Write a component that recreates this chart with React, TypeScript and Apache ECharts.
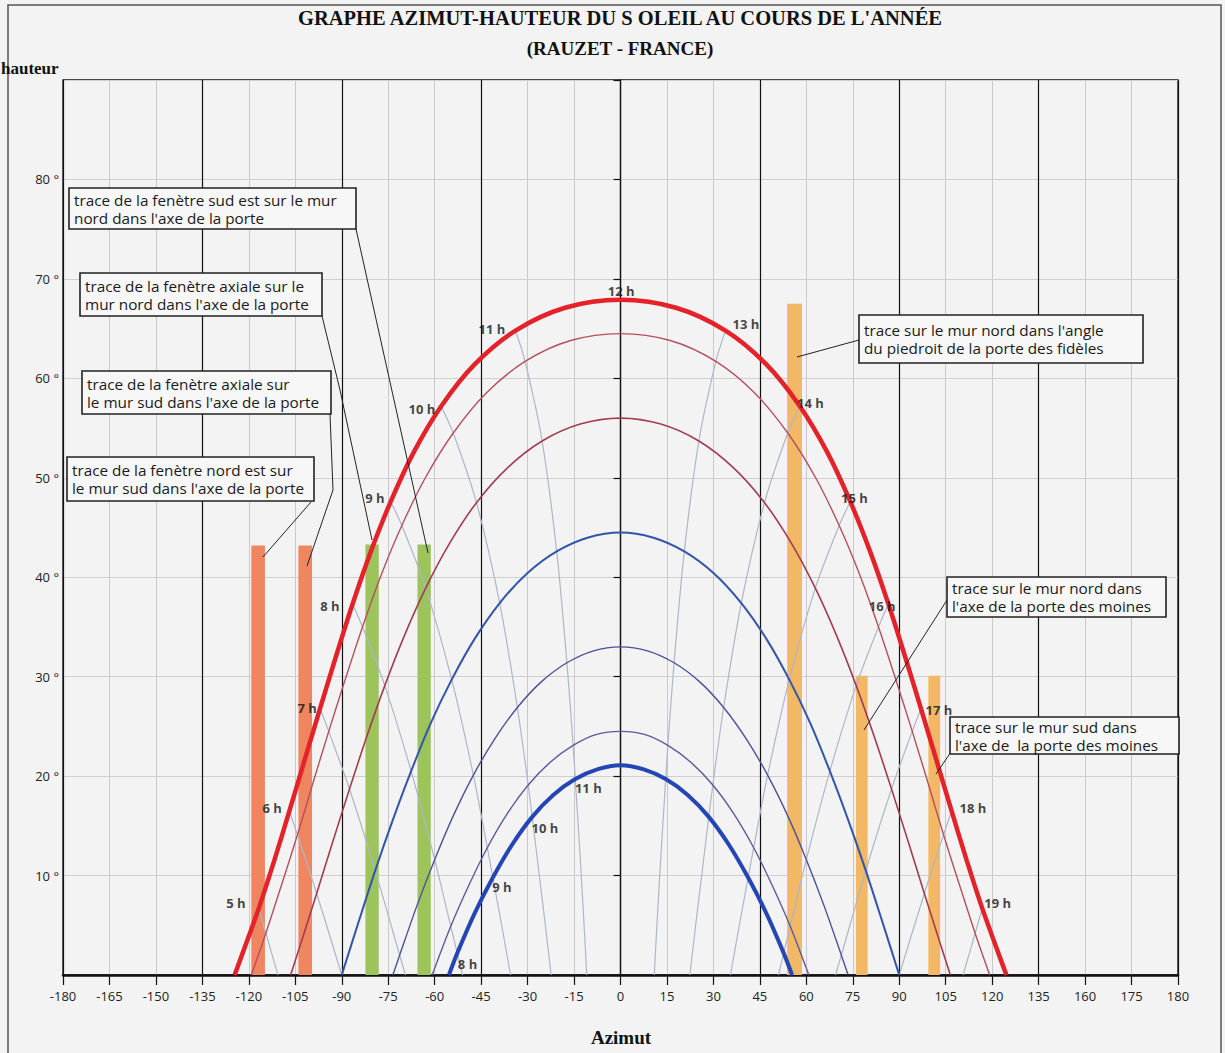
import React, { useEffect, useRef } from "react";
import * as echarts from "echarts";

// ---------- tick labels ----------
const xTickLabels = ["-180", "-165", "-150", "-135", "-120", "-105", "-90", "-75", "-60", "-45", "-30", "-15", "0", "15", "30", "45", "60", "75", "90", "105", "120", "135", "160", "175", "180"];
const yTickLabels = ["", "10 °", "20 °", "30 °", "40 °", "50 °", "60 °", "70 °", "80 °", ""];

// ---------- sun paths [azimut, hauteur] ----------
const pathJune = [[-124.6, 0], [-122.0, 2.2], [-116.8, 6.7], [-111.8, 11.5], [-106.9, 16.5], [-102.0, 21.6], [-97.0, 26.8], [-91.9, 32.0], [-86.5, 37.3], [-80.7, 42.5], [-74.2, 47.6], [-66.7, 52.6], [-57.9, 57.2], [-47.1, 61.4], [-33.9, 64.8], [-17.9, 67.1], [0, 67.9], [17.9, 67.1], [33.9, 64.8], [47.1, 61.4], [57.9, 57.2], [66.7, 52.6], [74.2, 47.6], [80.7, 42.5], [86.5, 37.3], [91.9, 32.0], [97.0, 26.8], [102.0, 21.6], [106.9, 16.5], [111.8, 11.5], [116.8, 6.7], [122.0, 2.2], [124.6, 0]];
const pathMayJul = [[-119.2, 0], [-114.5, 4.2], [-109.4, 9.1], [-104.3, 14.1], [-99.3, 19.3], [-94.2, 24.5], [-88.9, 29.7], [-83.3, 35.0], [-77.3, 40.2], [-70.6, 45.2], [-63.0, 50.0], [-54.0, 54.5], [-43.4, 58.5], [-30.8, 61.7], [-16.1, 63.8], [0, 64.5], [16.1, 63.8], [30.8, 61.7], [43.4, 58.5], [54.0, 54.5], [63.0, 50.0], [70.6, 45.2], [77.3, 40.2], [83.3, 35.0], [88.9, 29.7], [94.2, 24.5], [99.3, 19.3], [104.3, 14.1], [109.4, 9.1], [114.5, 4.2], [119.2, 0]];
const pathAprAug = [[-106.5, 0], [-103.4, 3.0], [-98.1, 8.2], [-92.9, 13.4], [-87.5, 18.7], [-82.0, 23.9], [-76.1, 29.1], [-69.8, 34.1], [-62.9, 38.9], [-55.2, 43.4], [-46.5, 47.5], [-36.5, 51.0], [-25.3, 53.7], [-13.0, 55.4], [0, 56.0], [13.0, 55.4], [25.3, 53.7], [36.5, 51.0], [46.5, 47.5], [55.2, 43.4], [62.9, 38.9], [69.8, 34.1], [76.1, 29.1], [82.0, 23.9], [87.5, 18.7], [92.9, 13.4], [98.1, 8.2], [103.4, 3.0], [106.5, 0]];
const pathEquinox = [[-90, 0], [-84.6, 5.3], [-79.2, 10.5], [-73.5, 15.6], [-67.6, 20.5], [-61.3, 25.3], [-54.5, 29.7], [-47.1, 33.8], [-39.0, 37.4], [-30.1, 40.4], [-20.6, 42.6], [-10.4, 44.0], [0, 44.5], [10.4, 44.0], [20.6, 42.6], [30.1, 40.4], [39.0, 37.4], [47.1, 33.8], [54.5, 29.7], [61.3, 25.3], [67.6, 20.5], [73.5, 15.6], [79.2, 10.5], [84.6, 5.3], [90, 0]];
const pathOctFeb = [[-73.5, 0], [-71.3, 2.0], [-65.8, 6.9], [-60.0, 11.6], [-54.0, 16.0], [-47.5, 20.1], [-40.7, 23.7], [-33.3, 26.9], [-25.5, 29.5], [-17.3, 31.4], [-8.7, 32.6], [0, 33.0], [8.7, 32.6], [17.3, 31.4], [25.5, 29.5], [33.3, 26.9], [40.7, 23.7], [47.5, 20.1], [54.0, 16.0], [60.0, 11.6], [65.8, 6.9], [71.3, 2.0], [73.5, 0]];
const pathNovJan = [[-60.8, 0], [-54.8, 4.9], [-49.0, 9.0], [-43.0, 12.8], [-36.6, 16.2], [-29.8, 19.1], [-22.7, 21.4], [-15.3, 23.1], [-7.7, 24.2], [0, 24.5], [7.7, 24.2], [15.3, 23.1], [22.7, 21.4], [29.8, 19.1], [36.6, 16.2], [43.0, 12.8], [49.0, 9.0], [54.8, 4.9], [60.8, 0]];
const pathDecember = [[-55.4, 0], [-52.7, 2.2], [-47.1, 6.2], [-41.2, 9.8], [-35.0, 13.1], [-28.5, 15.9], [-21.7, 18.1], [-14.6, 19.7], [-7.3, 20.7], [0, 21.1], [7.3, 20.7], [14.6, 19.7], [21.7, 18.1], [28.5, 15.9], [35.0, 13.1], [41.2, 9.8], [47.1, 6.2], [52.7, 2.2], [55.4, 0]];

// ---------- hour lines [azimut, hauteur] ----------
const hour5 = [[-116.8, 6.7], [-114.5, 4.2], [-110.6, 0]];
const hour6 = [[-106.9, 16.5], [-104.3, 14.1], [-98.1, 8.2], [-90, 0]];
const hour7 = [[-97.0, 26.8], [-94.2, 24.5], [-87.5, 18.7], [-79.2, 10.5], [-71.3, 2.0], [-69.4, 0]];
const hour8 = [[-86.5, 37.3], [-83.3, 35.0], [-76.1, 29.1], [-67.6, 20.5], [-60.0, 11.6], [-54.8, 4.9], [-52.7, 2.2], [-51.0, 0]];
const hour9 = [[-74.2, 47.6], [-70.6, 45.2], [-62.9, 38.9], [-54.5, 29.7], [-47.5, 20.1], [-43.0, 12.8], [-41.2, 9.8], [-37.9, 4.2], [-35.5, 0]];
const hour10 = [[-57.9, 57.2], [-54.0, 54.5], [-46.5, 47.5], [-39.0, 37.4], [-33.3, 26.9], [-29.8, 19.1], [-28.5, 15.9], [-26.1, 9.7], [-24.3, 5.1], [-22.4, 0]];
const hour11 = [[-33.9, 64.8], [-30.8, 61.7], [-25.3, 53.7], [-20.6, 42.6], [-17.3, 31.4], [-15.3, 23.1], [-14.6, 19.7], [-13.3, 13.3], [-12.0, 6.4], [-10.9, 0]];
const hour13 = [[33.9, 64.8], [30.8, 61.7], [25.3, 53.7], [20.6, 42.6], [17.3, 31.4], [15.3, 23.1], [14.6, 19.7], [13.3, 13.3], [12.0, 6.4], [10.9, 0]];
const hour14 = [[57.9, 57.2], [54.0, 54.5], [46.5, 47.5], [39.0, 37.4], [33.3, 26.9], [29.8, 19.1], [28.5, 15.9], [26.1, 9.7], [24.3, 5.1], [22.4, 0]];
const hour15 = [[74.2, 47.6], [70.6, 45.2], [62.9, 38.9], [54.5, 29.7], [47.5, 20.1], [43.0, 12.8], [41.2, 9.8], [37.9, 4.2], [35.5, 0]];
const hour16 = [[86.5, 37.3], [83.3, 35.0], [76.1, 29.1], [67.6, 20.5], [60.0, 11.6], [54.8, 4.9], [52.7, 2.2], [51.0, 0]];
const hour17 = [[97.0, 26.8], [94.2, 24.5], [87.5, 18.7], [79.2, 10.5], [71.3, 2.0], [69.4, 0]];
const hour18 = [[106.9, 16.5], [104.3, 14.1], [98.1, 8.2], [90, 0]];
const hour19 = [[116.8, 6.7], [114.5, 4.2], [110.6, 0]];

// ---------- hour labels [azimut, hauteur, text] ----------
const hourLabelsSummer = [[-124.2, 7.2, "5 h"], [-112.5, 16.8, "6 h"], [-101.2, 26.8, "7 h"], [-93.8, 37.1, "8 h"], [-79.3, 48.0, "9 h"], [-64.1, 56.9, "10 h"], [-41.5, 65.0, "11 h"], [0.2, 68.8, "12 h"], [40.5, 65.5, "13 h"], [61.3, 57.5, "14 h"], [75.5, 48.0, "15 h"], [84.5, 37.1, "16 h"], [102.8, 26.6, "17 h"], [113.8, 16.8, "18 h"], [121.8, 7.2, "19 h"]];
const hourLabelsWinter = [[-10.4, 18.8, "11 h"], [-24.4, 14.8, "10 h"], [-38.3, 8.8, "9 h"], [-49.4, 1.1, "8 h"]];

// ---------- traces [azimut centre, hauteur, largeur] ----------
const tracesOrange = [[-117.0, 43.2, 4.4], [-101.8, 43.2, 4.4]];
const tracesGreen = [[-80.2, 43.3, 4.3], [-63.4, 43.3, 4.3]];
const tracesYellow = [[56.2, 67.5, 4.8], [77.9, 30.1, 3.8], [101.3, 30.1, 3.8]];

// ---------- annotation texts ----------
const notes = [
  "trace de la fenètre sud est sur le mur\nnord dans l'axe de la porte",
  "trace de la fenètre axiale sur le\nmur nord dans l'axe de la porte",
  "trace de la fenètre axiale sur\nle mur sud dans l'axe de la porte",
  "trace de la fenètre nord est sur\nle mur sud dans l'axe de la porte",
  "trace sur le mur nord dans l'angle\ndu piedroit de la porte des fidèles",
  "trace sur le mur nord dans\nl'axe de la porte des moines",
  "trace sur le mur sud dans\nl'axe de  la porte des moines",
];

// layout of annotation boxes (pixels)
const noteBoxes = [
  { x: 69, y: 188, w: 287, h: 41 },
  { x: 80, y: 273, w: 242, h: 43 },
  { x: 82, y: 371, w: 249, h: 43 },
  { x: 67, y: 457, w: 247, h: 44 },
  { x: 859, y: 315, w: 284, h: 48 },
  { x: 947, y: 577, w: 219, h: 40 },
  { x: 950, y: 717, w: 229, h: 37 },
];
const leaders = [
  [[356, 229], [428, 553]],
  [[322, 316], [340, 390], [372, 540]],
  [[330, 414], [333, 490], [307, 566]],
  [[311, 502], [263, 557]],
  [[859, 340], [797, 357]],
  [[947, 600], [864, 730]],
  [[951, 752], [936, 774]],
];

const sunPaths = [
  { name: "juin", data: pathJune, color: "#e4222a", width: 4.5 },
  { name: "mai-juillet", data: pathMayJul, color: "#b4505e", width: 1.4 },
  { name: "avril-août", data: pathAprAug, color: "#a23c50", width: 1.6 },
  { name: "équinoxe", data: pathEquinox, color: "#3155a8", width: 2 },
  { name: "octobre-février", data: pathOctFeb, color: "#4c5196", width: 1.4 },
  { name: "novembre-janvier", data: pathNovJan, color: "#5a5b9c", width: 1.4 },
  { name: "décembre", data: pathDecember, color: "#2446b4", width: 4 },
];
const hourLines = [hour5, hour6, hour7, hour8, hour9, hour10, hour11, hour13, hour14, hour15, hour16, hour17, hour18, hour19];

export default function App() {
  const ref = useRef<HTMLDivElement>(null);
  useEffect(() => {
    document.body.style.margin = "0";
    const chart = echarts.init(ref.current!, null, { renderer: "svg" });

    const barRender = (params: any, api: any) => {
      const x = api.value(0);
      const h = api.value(1);
      const w = api.value(2);
      const tl = api.coord([x - w / 2, h]);
      const br = api.coord([x + w / 2, 0]);
      return {
        type: "rect",
        shape: { x: tl[0], y: tl[1], width: br[0] - tl[0], height: br[1] - tl[1] },
        style: api.style(),
      };
    };

    const series: any[] = [];
    [
      { data: tracesOrange, color: "#ef8660" },
      { data: tracesGreen, color: "#9cc35c" },
      { data: tracesYellow, color: "#f2b866" },
    ].forEach((t) => {
      series.push({
        type: "custom",
        renderItem: barRender,
        data: t.data,
        encode: { x: 0, y: 1 },
        itemStyle: { color: t.color },
        z: 2,
        silent: true,
      });
    });
    hourLines.forEach((d) => {
      series.push({
        type: "line",
        data: d,
        smooth: 0.3,
        symbol: "none",
        lineStyle: { color: "#adb6c8", width: 1.2 },
        z: 3,
        silent: true,
      });
    });
    sunPaths.forEach((p) => {
      series.push({
        type: "line",
        name: p.name,
        data: p.data,
        smooth: 0.3,
        symbol: "none",
        lineStyle: { color: p.color, width: p.width },
        z: 4,
        silent: true,
      });
    });
    series.push({
      type: "scatter",
      data: [...hourLabelsSummer, ...hourLabelsWinter].map((l) => ({ name: l[2], value: [l[0], l[1]] })),
      symbolSize: 1,
      itemStyle: { color: "transparent" },
      label: {
        show: true,
        position: "inside",
        formatter: "{b}",
        fontFamily: "Open Sans",
        fontSize: 13,
        fontWeight: "bold",
        color: "#141414",
      },
      z: 5,
      silent: true,
    });

    const graphic: any[] = [
      {
        type: "rect",
        shape: { x: 8, y: 5, width: 1213, height: 1060 },
        style: { fill: "none", stroke: "#555", lineWidth: 1.5 },
        z: -1,
      },
      {
        type: "text",
        x: 620,
        y: 18,
        style: { text: "GRAPHE AZIMUT-HAUTEUR DU S OLEIL AU COURS DE L'ANNÉE", fontFamily: "Liberation Serif", fontWeight: "bold", fontSize: 20.5, fill: "#111", align: "center", verticalAlign: "middle" },
      },
      {
        type: "text",
        x: 620,
        y: 48,
        style: { text: "(RAUZET - FRANCE)", fontFamily: "Liberation Serif", fontWeight: "bold", fontSize: 19, fill: "#111", align: "center", verticalAlign: "middle" },
      },
      {
        type: "text",
        x: 1,
        y: 68,
        style: { text: "hauteur", fontFamily: "Liberation Serif", fontWeight: "bold", fontSize: 17, fill: "#111", align: "left", verticalAlign: "middle" },
      },
      {
        type: "text",
        x: 621,
        y: 1037,
        style: { text: "Azimut", fontFamily: "Liberation Serif", fontWeight: "bold", fontSize: 19, fill: "#111", align: "center", verticalAlign: "middle" },
      },
    ];
    leaders.forEach((pts) => {
      graphic.push({
        type: "polyline",
        shape: { points: pts },
        style: { stroke: "#222", lineWidth: 1, fill: "none" },
        z: 10,
      });
    });
    noteBoxes.forEach((b, i) => {
      graphic.push({
        type: "rect",
        shape: { x: b.x, y: b.y, width: b.w, height: b.h },
        style: { fill: "#f7f7f7", stroke: "#222", lineWidth: 1.6 },
        z: 11,
      });
      graphic.push({
        type: "text",
        x: b.x + 5,
        y: b.y + b.h / 2,
        style: { text: notes[i], fontFamily: "Open Sans", fontSize: 15.3, lineHeight: 18, fill: "#1a1a1a", align: "left", verticalAlign: "middle" },
        z: 12,
      });
    });

    chart.setOption({
      animation: false,
      backgroundColor: "#f3f3f3",
      grid: { left: 63, right: 47, top: 80, bottom: 78, show: true, borderColor: "#111", borderWidth: 1.3, backgroundColor: "transparent" },
      xAxis: [
        {
          type: "value",
          min: -180,
          max: 180,
          interval: 15,
          axisLine: { show: true, onZero: false, lineStyle: { color: "#111", width: 2.5 } },
          axisTick: { show: true, length: 10, lineStyle: { color: "#111", width: 1.2 } },
          axisLabel: {
            margin: 14,
            fontFamily: "Open Sans",
            fontSize: 13,
            color: "#222",
            formatter: (v: number) => xTickLabels[Math.round((v + 180) / 15)] ?? "",
          },
          splitLine: { show: true, lineStyle: { color: "#c9c9c9", width: 1 } },
        },
        {
          type: "value",
          min: -180,
          max: 180,
          interval: 45,
          position: "bottom",
          axisLine: { show: false },
          axisTick: { show: false },
          axisLabel: { show: false },
          splitLine: { show: true, lineStyle: { color: "#111", width: 1.2 } },
        },
      ],
      yAxis: {
        type: "value",
        min: 0,
        max: 90,
        interval: 10,
        axisLine: { show: true, lineStyle: { color: "#111", width: 1.3 } },
        axisTick: { show: true, length: 7, lineStyle: { color: "#111", width: 1.2 } },
        axisLabel: {
          margin: 4,
          fontFamily: "Open Sans",
          fontSize: 13,
          color: "#222",
          formatter: (v: number) => yTickLabels[Math.round(v / 10)] ?? "",
        },
        splitLine: { show: true, lineStyle: { color: "#cfcfcf", width: 1 } },
      },
      series,
      graphic,
    });
    return () => chart.dispose();
  }, []);
  return <div ref={ref} style={{ width: 1225, height: 1053 }} />;
}
